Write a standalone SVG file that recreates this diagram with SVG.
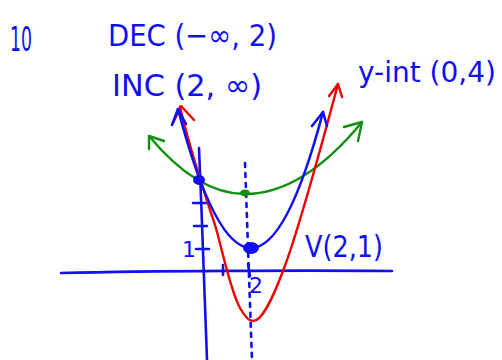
<svg xmlns="http://www.w3.org/2000/svg" width="502" height="360" viewBox="0 0 502 360">
<style>
.t{font-family:"DejaVu Sans","Liberation Sans",sans-serif;fill:#1010f0;}
.b{fill:none;stroke:#1010f0;stroke-width:2.6;stroke-linecap:round;stroke-linejoin:round;}
.r{fill:none;stroke:#f00000;stroke-width:2.4;stroke-linecap:round;stroke-linejoin:round;}
.g{fill:none;stroke:#109010;stroke-width:2.4;stroke-linecap:round;stroke-linejoin:round;}
</style>
<rect width="502" height="360" fill="#ffffff"/>
<g id="labels">
<text class="t" x="10" y="51" font-size="34" textLength="22" lengthAdjust="spacingAndGlyphs">10</text>
<text class="t" x="108" y="46" font-size="31" textLength="169" lengthAdjust="spacingAndGlyphs">DEC (−∞, 2)</text>
<text class="t" x="112" y="96" font-size="31" textLength="150" lengthAdjust="spacingAndGlyphs">INC (2, ∞)</text>
<text class="t" x="358" y="82" font-size="28" textLength="138" lengthAdjust="spacingAndGlyphs">y-int (0,4)</text>
<text class="t" x="305" y="257" font-size="30" textLength="78" lengthAdjust="spacingAndGlyphs">V(2,1)</text>
<text class="t" x="182" y="257" font-size="22">1</text>
<text class="t" x="249" y="293" font-size="22">2</text>
</g>
<g id="axes">
<path class="b" d="M61,273 C150,271 300,270 392,271"/>
<path class="b" d="M199,148 C202,220 205,300 207,360"/>
<path class="b" d="M193,203 L206,203 M194,226 L207,226 M196,249 L209,249 M223,265 L223,275 M248,264 L250,276"/>
<path class="b" d="M245,163 L252,360" stroke-dasharray="4 6"/>
</g>
<g id="green-parabola">
<path class="g" d="M149,136 Q197,194 245,194 Q303,194 362,122"/>
<path class="g" d="M164,141 L149,136 L149,149 M344,127 L362,122 L358,141"/>
<ellipse cx="245" cy="193" rx="5" ry="3.5" fill="#109010"/>
</g>
<g id="red-parabola">
<path class="r" d="M180,107 C190,150 205,195 215,225 C222,248 230,290 240,308 C245,317 249,321 253,321 C262,321 272,300 283,271 C295,240 315,170 338,84"/>
<path class="r" d="M173,123 L181,106 L194,120 M329,96 L338,84 L342,97"/>
</g>
<g id="blue-parabola">
<path class="b" d="M178,109 Q214.5,248 251,248 Q287,248 323,112"/>
<path class="b" d="M172,125 L178,109 L186,124 M312,126 L323,112 L327,126"/>
<ellipse cx="199" cy="180" rx="6" ry="5" fill="#1010f0"/>
<ellipse cx="251" cy="248" rx="8" ry="6" fill="#1010f0"/>
</g>
</svg>
